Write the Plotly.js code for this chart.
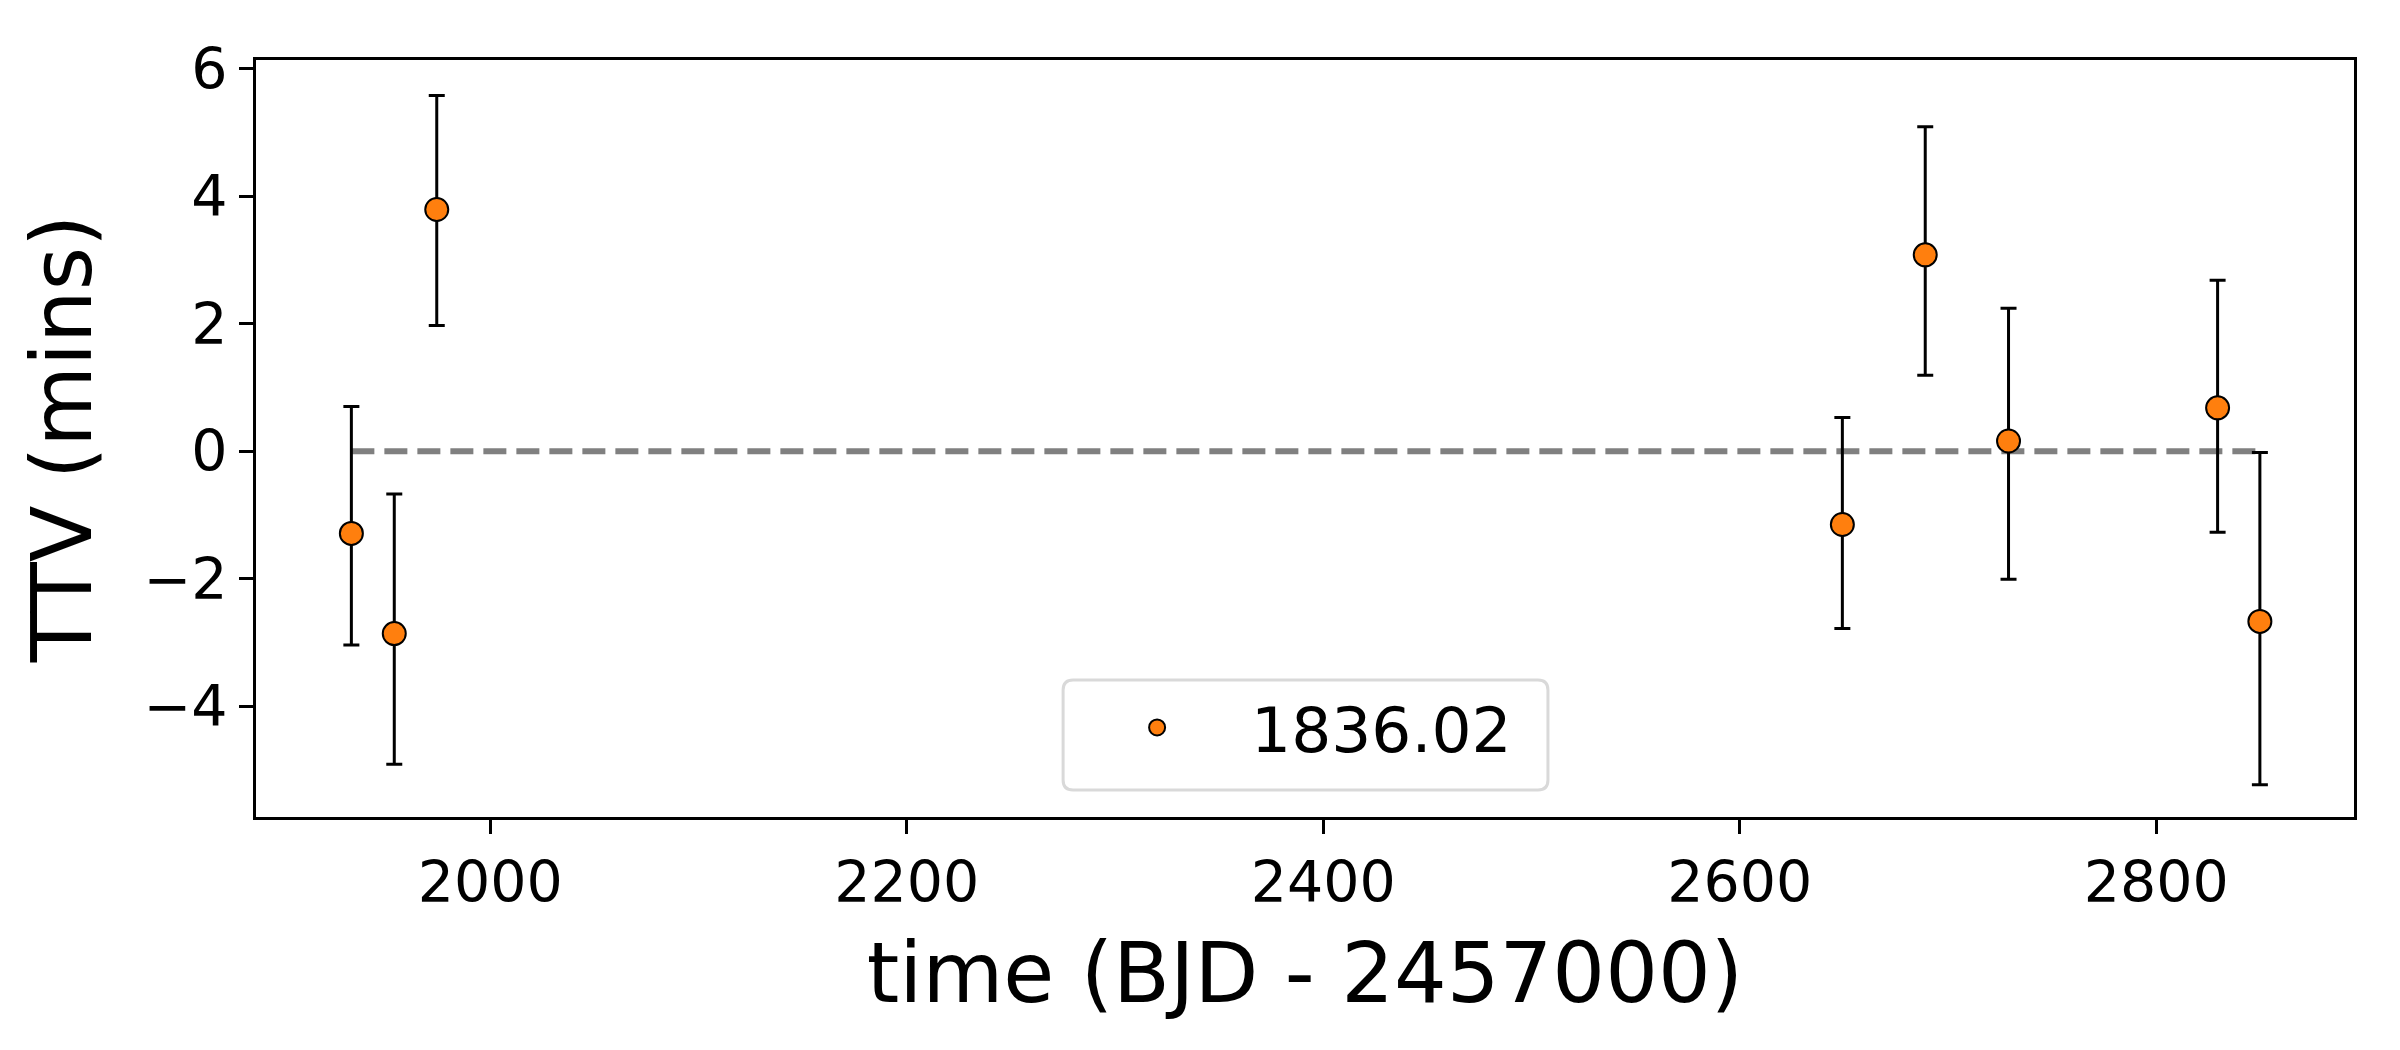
<!DOCTYPE html>
<html>
<head>
<meta charset="utf-8">
<script src="https://cdn.plot.ly/plotly-3.0.1.min.js"></script>
<style>
  html, body { margin: 0; padding: 0; background: #ffffff; }
  #chart { width: 2400px; height: 1050px; }
</style>
</head>
<body>
<div id="chart"></div>
<script>
// Transit times (BJD - 2457000)
const times = [1933.3, 1953.9, 1974.3, 2649.3, 2689.1, 2729.1, 2829.5, 2849.8];
// TTV values (minutes)
const ttv = [-1.29, -2.86, 3.79, -1.15, 3.08, 0.16, 0.68, -2.67];
// Upper / lower uncertainties (minutes)
const errPlus = [1.99, 2.19, 1.79, 1.68, 2.01, 2.08, 2.00, 2.65];
const errMinus = [1.75, 2.05, 1.82, 1.63, 1.89, 2.17, 1.95, 2.56];
const seriesName = "1836.02";
const xTicks = [2000, 2200, 2400, 2600, 2800];
const yTicks = [-4, -2, 0, 2, 4, 6];

const FONT = "DejaVu Sans, Verdana, sans-serif";

const zeroLine = {
  x: [times[0], times[times.length - 1]],
  y: [0, 0],
  mode: "lines",
  line: { color: "#808080", width: 6, dash: "23px,10px" },
  showlegend: false,
  hoverinfo: "skip"
};

const points = {
  x: times,
  y: ttv,
  name: seriesName,
  mode: "markers",
  type: "scatter",
  marker: { color: "#ff7f0e", size: 23, line: { color: "#000000", width: 2 } },
  error_y: {
    type: "data",
    symmetric: false,
    array: errPlus,
    arrayminus: errMinus,
    color: "#000000",
    thickness: 3,
    width: 8
  }
};

// Legend frame (rounded) in paper coordinates
const lx0 = 0.3847, lx1 = 0.6158, ly0 = 0.0357, ly1 = 0.1810;
const rx = 10 / 2098, ry = 10 / 757;
const framePath =
  `M ${lx0 + rx},${ly1} L ${lx1 - rx},${ly1} Q ${lx1},${ly1} ${lx1},${ly1 - ry} ` +
  `L ${lx1},${ly0 + ry} Q ${lx1},${ly0} ${lx1 - rx},${ly0} ` +
  `L ${lx0 + rx},${ly0} Q ${lx0},${ly0} ${lx0},${ly0 + ry} ` +
  `L ${lx0},${ly1 - ry} Q ${lx0},${ly1} ${lx0 + rx},${ly1} Z`;

const axisCommon = {
  showline: true,
  linecolor: "#000000",
  linewidth: 3,
  mirror: true,
  ticks: "outside",
  ticklen: 14,
  tickwidth: 3,
  tickcolor: "#000000",
  showgrid: false,
  zeroline: false,
  tickfont: { family: FONT, size: 57, color: "#000000" }
};

const layout = {
  width: 2400,
  height: 1050,
  paper_bgcolor: "#ffffff",
  plot_bgcolor: "#ffffff",
  margin: { l: 256, r: 46, t: 60, b: 233 },
  font: { family: FONT, color: "#000000" },
  xaxis: Object.assign({}, axisCommon, {
    range: [1887.5, 2895],
    tickmode: "array",
    tickvals: xTicks,
    ticktext: xTicks.map(String),
    title: { text: "time (BJD - 2457000)", font: { family: FONT, size: 83, color: "#000000" }, standoff: 30 }
  }),
  yaxis: Object.assign({}, axisCommon, {
    range: [-5.737, 6.135],
    tickmode: "array",
    tickvals: yTicks,
    ticktext: yTicks.map(v => v < 0 ? "\u2212" + Math.abs(v) : String(v)),
    title: { text: "TTV (mins)", font: { family: FONT, size: 83, color: "#000000" }, standoff: 25 }
  }),
  showlegend: true,
  legend: {
    x: lx0,
    y: ly1,
    xanchor: "left",
    yanchor: "top",
    bgcolor: "rgba(0,0,0,0)",
    borderwidth: 0,
    font: { family: FONT, size: 63, color: "#000000" },
    itemwidth: 178
  },
  shapes: [
    { type: "path", xref: "paper", yref: "paper", path: framePath,
      fillcolor: "#ffffff", line: { color: "#d9d9d9", width: 3 }, layer: "above" }
  ]
};

Plotly.newPlot("chart", [zeroLine, points], layout, { displayModeBar: false, staticPlot: true });
</script>
</body>
</html>
